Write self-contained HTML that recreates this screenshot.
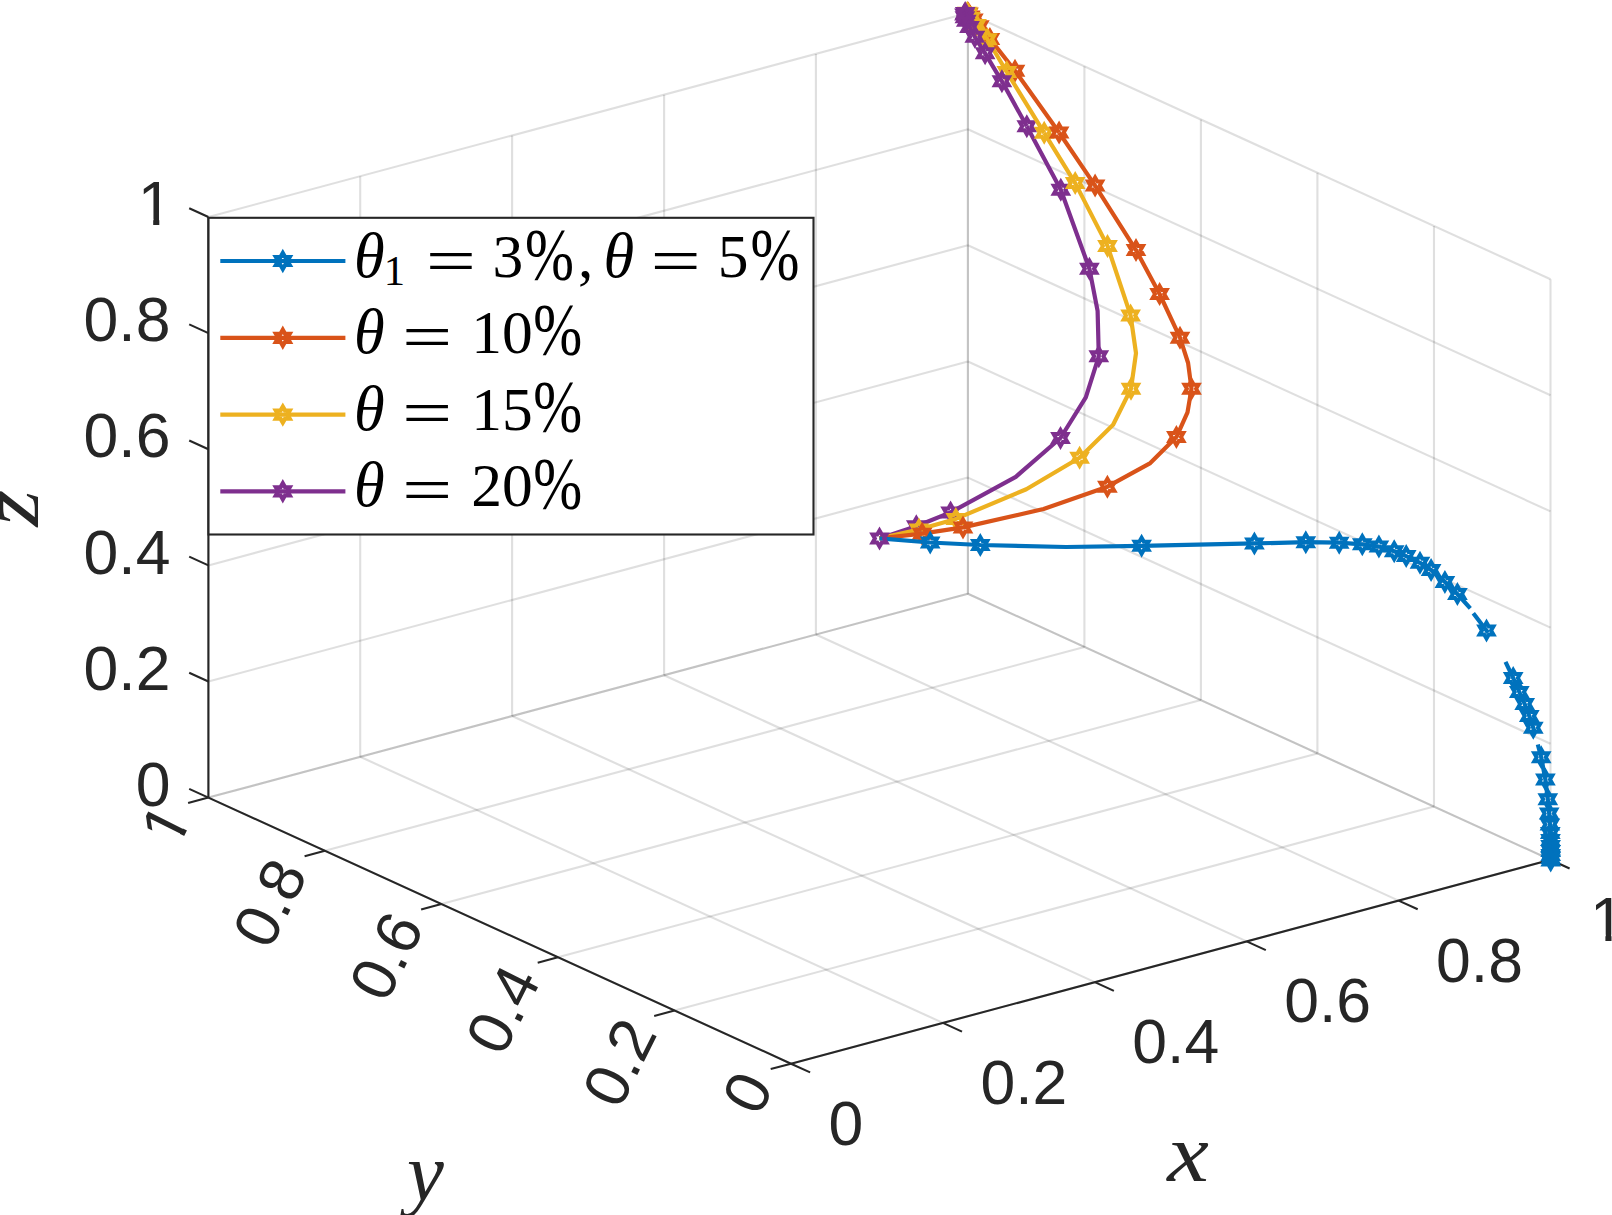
<!DOCTYPE html>
<html><head><meta charset="utf-8"><title>plot</title>
<style>
html,body{margin:0;padding:0;background:#fff;}
body{width:1612px;height:1215px;overflow:hidden;}
svg{display:block;}
.g{stroke:rgba(38,38,38,0.15);stroke-width:2.1;}
.a{stroke:#262626;stroke-width:2.1;}
.tk{font-family:"Liberation Sans",sans-serif;font-size:62.5px;fill:#262626;}
.al{font-family:"Liberation Serif",serif;font-style:italic;font-size:83px;fill:#262626;}
.li{font-family:"Liberation Serif",serif;font-style:italic;font-size:62.5px;fill:#000;}
.lr{font-family:"Liberation Serif",serif;font-size:61.5px;fill:#000;}
.ls{font-family:"Liberation Serif",serif;font-size:42.7px;fill:#000;}
.lq{font-family:"Liberation Serif",serif;font-size:62.5px;fill:#000;}
.lp{font-family:"Liberation Serif",serif;font-size:73.7px;fill:#000;}
</style></head><body>
<svg width="1612" height="1215" viewBox="0 0 1612 1215">
<rect width="1612" height="1215" fill="#fff"/>
<g id="grid"><line x1="791" y1="1063.7" x2="208.4" y2="797.6" class="g"/><line x1="791" y1="1063.7" x2="1550.5" y2="859.8" class="g"/><line x1="208.4" y1="797.6" x2="208.4" y2="217" class="g"/><line x1="208.4" y1="797.6" x2="967.9" y2="593.7" class="g"/><line x1="1550.5" y1="859.8" x2="1550.5" y2="279.2" class="g"/><line x1="1550.5" y1="859.8" x2="967.9" y2="593.7" class="g"/><line x1="942.9" y1="1022.9" x2="360.2" y2="756.8" class="g"/><line x1="674.5" y1="1010.5" x2="1434" y2="806.6" class="g"/><line x1="360.2" y1="756.8" x2="360.2" y2="176.2" class="g"/><line x1="208.4" y1="681.5" x2="967.9" y2="477.6" class="g"/><line x1="1434" y1="806.6" x2="1434" y2="226" class="g"/><line x1="1550.5" y1="743.7" x2="967.9" y2="477.6" class="g"/><line x1="1094.8" y1="982.1" x2="512.1" y2="716" class="g"/><line x1="557.9" y1="957.3" x2="1317.4" y2="753.4" class="g"/><line x1="512.1" y1="716" x2="512.1" y2="135.4" class="g"/><line x1="208.4" y1="565.4" x2="967.9" y2="361.5" class="g"/><line x1="1317.4" y1="753.4" x2="1317.4" y2="172.8" class="g"/><line x1="1550.5" y1="627.6" x2="967.9" y2="361.5" class="g"/><line x1="1246.7" y1="941.4" x2="664.1" y2="675.3" class="g"/><line x1="441.4" y1="904" x2="1200.9" y2="700.1" class="g"/><line x1="664.1" y1="675.3" x2="664.1" y2="94.7" class="g"/><line x1="208.4" y1="449.2" x2="967.9" y2="245.3" class="g"/><line x1="1200.9" y1="700.1" x2="1200.9" y2="119.5" class="g"/><line x1="1550.5" y1="511.4" x2="967.9" y2="245.3" class="g"/><line x1="1398.6" y1="900.6" x2="815.9" y2="634.5" class="g"/><line x1="324.9" y1="850.8" x2="1084.4" y2="646.9" class="g"/><line x1="815.9" y1="634.5" x2="815.9" y2="53.9" class="g"/><line x1="208.4" y1="333.1" x2="967.9" y2="129.2" class="g"/><line x1="1084.4" y1="646.9" x2="1084.4" y2="66.3" class="g"/><line x1="1550.5" y1="395.3" x2="967.9" y2="129.2" class="g"/><line x1="1550.5" y1="859.8" x2="967.9" y2="593.7" class="g"/><line x1="208.4" y1="797.6" x2="967.9" y2="593.7" class="g"/><line x1="967.9" y1="593.7" x2="967.9" y2="13.1" class="g"/><line x1="208.4" y1="217" x2="967.9" y2="13.1" class="g"/><line x1="967.9" y1="593.7" x2="967.9" y2="13.1" class="g"/><line x1="1550.5" y1="279.2" x2="967.9" y2="13.1" class="g"/></g>
<g id="axes"><line x1="791" y1="1063.7" x2="1550.5" y2="859.8" class="a"/><line x1="791" y1="1063.7" x2="208.4" y2="797.6" class="a"/><line x1="208.4" y1="797.6" x2="208.4" y2="217" class="a"/><line x1="791" y1="1063.7" x2="810.1" y2="1072.4" class="a"/><line x1="791" y1="1063.7" x2="770.7" y2="1069.1" class="a"/><line x1="208.4" y1="797.6" x2="189.2" y2="788.9" class="a"/><line x1="942.9" y1="1022.9" x2="962" y2="1031.6" class="a"/><line x1="674.5" y1="1010.5" x2="654.2" y2="1015.9" class="a"/><line x1="208.4" y1="681.5" x2="189.2" y2="672.8" class="a"/><line x1="1094.8" y1="982.1" x2="1113.9" y2="990.9" class="a"/><line x1="557.9" y1="957.3" x2="537.7" y2="962.7" class="a"/><line x1="208.4" y1="565.4" x2="189.2" y2="556.6" class="a"/><line x1="1246.7" y1="941.4" x2="1265.8" y2="950.1" class="a"/><line x1="441.4" y1="904" x2="421.1" y2="909.5" class="a"/><line x1="208.4" y1="449.2" x2="189.2" y2="440.5" class="a"/><line x1="1398.6" y1="900.6" x2="1417.7" y2="909.3" class="a"/><line x1="324.9" y1="850.8" x2="304.6" y2="856.3" class="a"/><line x1="208.4" y1="333.1" x2="189.2" y2="324.4" class="a"/><line x1="1550.5" y1="859.8" x2="1569.6" y2="868.5" class="a"/><line x1="208.4" y1="797.6" x2="188.1" y2="803" class="a"/><line x1="208.4" y1="217" x2="189.2" y2="208.3" class="a"/></g>
<g id="ticklabels"><text class="tk" x="828.5" y="1144.7">0</text><text class="tk" text-anchor="end" x="170.5" y="805.8">0</text><text class="tk" text-anchor="end" transform="translate(754.8 1076.7) rotate(-63.5)" x="0" y="22">0</text><text class="tk" x="980.4" y="1103.9">0.2</text><text class="tk" text-anchor="end" x="170.5" y="689.7">0.2</text><text class="tk" text-anchor="end" transform="translate(638.3 1023.5) rotate(-63.5)" x="0" y="22">0.2</text><text class="tk" x="1132.3" y="1063.1">0.4</text><text class="tk" text-anchor="end" x="170.5" y="573.6">0.4</text><text class="tk" text-anchor="end" transform="translate(521.7 970.3) rotate(-63.5)" x="0" y="22">0.4</text><text class="tk" x="1284.2" y="1022.4">0.6</text><text class="tk" text-anchor="end" x="170.5" y="457.4">0.6</text><text class="tk" text-anchor="end" transform="translate(405.2 917) rotate(-63.5)" x="0" y="22">0.6</text><text class="tk" x="1436.1" y="981.6">0.8</text><text class="tk" text-anchor="end" x="170.5" y="341.3">0.8</text><text class="tk" text-anchor="end" transform="translate(288.7 863.8) rotate(-63.5)" x="0" y="22">0.8</text><text class="tk" x="1590" y="940.8">1</text><rect x="1593.1" y="934.6" width="12.3" height="8.1" fill="#fff"/><rect x="1611.5" y="934.6" width="12.5" height="8.1" fill="#fff"/><text class="tk" x="137.8" y="225.2">1</text><rect x="140.9" y="218.9" width="12.3" height="8.1" fill="#fff"/><rect x="159.3" y="218.9" width="12.5" height="8.1" fill="#fff"/><g transform="translate(172.2 810.6) rotate(-63.5)"><text class="tk" x="-32.8" y="22">1</text><rect x="-29.6" y="15.8" width="12.3" height="8.1" fill="#fff"/><rect x="-11.2" y="15.8" width="12.5" height="8.1" fill="#fff"/></g></g>
<text class="al" transform="translate(1167.2 1181) scale(1.13 1)">x</text>
<text class="al" x="407" y="1199.5">y</text>
<text class="al" transform="translate(37.5 526.5) rotate(-90) scale(1.13 1)">z</text>
<g stroke="#7E2F8E" fill="none" stroke-width="4.2" stroke-linejoin="round"><polyline points="879.5,538.4 916.3,526.3 950.6,512.4 1015.8,476.8 1060.5,438 1085.8,397.4 1098.8,356.3 1097.6,310.9 1089.4,268.7 1060.8,189.8 1026.8,126.3"/><g stroke-width="4" stroke-linejoin="miter" stroke-miterlimit="10"><polygon points="916.3,518.3 918.6,522.3 923.2,522.3 920.9,526.3 923.2,530.3 918.6,530.3 916.3,534.3 914,530.3 909.4,530.3 911.7,526.3 909.4,522.3 914,522.3"/><polygon points="950.6,504.4 952.9,508.4 957.5,508.4 955.2,512.4 957.5,516.4 952.9,516.4 950.6,520.4 948.3,516.4 943.7,516.4 946,512.4 943.7,508.4 948.3,508.4"/><polygon points="1060.5,430 1062.8,434 1067.4,434 1065.1,438 1067.4,442 1062.8,442 1060.5,446 1058.2,442 1053.6,442 1055.9,438 1053.6,434 1058.2,434"/><polygon points="1098.8,348.3 1101.1,352.3 1105.7,352.3 1103.4,356.3 1105.7,360.3 1101.1,360.3 1098.8,364.3 1096.5,360.3 1091.9,360.3 1094.2,356.3 1091.9,352.3 1096.5,352.3"/><polygon points="1089.4,260.7 1091.7,264.7 1096.3,264.7 1094,268.7 1096.3,272.7 1091.7,272.7 1089.4,276.7 1087.1,272.7 1082.5,272.7 1084.8,268.7 1082.5,264.7 1087.1,264.7"/><polygon points="1060.8,181.8 1063.1,185.8 1067.7,185.8 1065.4,189.8 1067.7,193.8 1063.1,193.8 1060.8,197.8 1058.5,193.8 1053.9,193.8 1056.2,189.8 1053.9,185.8 1058.5,185.8"/><polygon points="1026.8,118.3 1029.1,122.3 1033.7,122.3 1031.4,126.3 1033.7,130.3 1029.1,130.3 1026.8,134.3 1024.5,130.3 1019.9,130.3 1022.2,126.3 1019.9,122.3 1024.5,122.3"/></g></g>
<g stroke="#EDB120" fill="none" stroke-width="4.2" stroke-linejoin="round"><polyline points="879.5,538.4 918.9,529.6 955.8,518.9 1026.3,489.2 1079.6,457.7 1113.1,424.7 1131,388.7 1136,353.1 1130.6,315.4 1107.5,245.9 1075.2,183.1 1044.2,132.8"/><g stroke-width="4" stroke-linejoin="miter" stroke-miterlimit="10"><polygon points="918.9,521.6 921.2,525.6 925.8,525.6 923.5,529.6 925.8,533.6 921.2,533.6 918.9,537.6 916.6,533.6 912,533.6 914.3,529.6 912,525.6 916.6,525.6"/><polygon points="955.8,510.9 958.1,514.9 962.7,514.9 960.4,518.9 962.7,522.9 958.1,522.9 955.8,526.9 953.5,522.9 948.9,522.9 951.2,518.9 948.9,514.9 953.5,514.9"/><polygon points="1079.6,449.7 1081.9,453.7 1086.5,453.7 1084.2,457.7 1086.5,461.7 1081.9,461.7 1079.6,465.7 1077.3,461.7 1072.7,461.7 1075,457.7 1072.7,453.7 1077.3,453.7"/><polygon points="1131,380.7 1133.3,384.7 1137.9,384.7 1135.6,388.7 1137.9,392.7 1133.3,392.7 1131,396.7 1128.7,392.7 1124.1,392.7 1126.4,388.7 1124.1,384.7 1128.7,384.7"/><polygon points="1130.6,307.4 1132.9,311.4 1137.5,311.4 1135.2,315.4 1137.5,319.4 1132.9,319.4 1130.6,323.4 1128.3,319.4 1123.7,319.4 1126,315.4 1123.7,311.4 1128.3,311.4"/><polygon points="1107.5,237.9 1109.8,241.9 1114.4,241.9 1112.1,245.9 1114.4,249.9 1109.8,249.9 1107.5,253.9 1105.2,249.9 1100.6,249.9 1102.9,245.9 1100.6,241.9 1105.2,241.9"/><polygon points="1075.2,175.1 1077.5,179.1 1082.1,179.1 1079.8,183.1 1082.1,187.1 1077.5,187.1 1075.2,191.1 1072.9,187.1 1068.3,187.1 1070.6,183.1 1068.3,179.1 1072.9,179.1"/><polygon points="1044.2,124.8 1046.5,128.8 1051.1,128.8 1048.8,132.8 1051.1,136.8 1046.5,136.8 1044.2,140.8 1041.9,136.8 1037.3,136.8 1039.6,132.8 1037.3,128.8 1041.9,128.8"/></g></g>
<g stroke="#D95319" fill="none" stroke-width="4.2" stroke-linejoin="round"><polyline points="879.5,538.4 922.1,533.7 963,527.4 1043.6,509 1107.4,486.7 1150.3,463.1 1176.4,437.1 1187.5,412.3 1191.5,388.7 1188.1,363 1180,337.7 1159.6,294 1136,250.1 1095.1,185.6 1059.1,132.5"/><g stroke-width="4" stroke-linejoin="miter" stroke-miterlimit="10"><polygon points="922.1,525.7 924.4,529.7 929,529.7 926.7,533.7 929,537.7 924.4,537.7 922.1,541.7 919.8,537.7 915.2,537.7 917.5,533.7 915.2,529.7 919.8,529.7"/><polygon points="963,519.4 965.3,523.4 969.9,523.4 967.6,527.4 969.9,531.4 965.3,531.4 963,535.4 960.7,531.4 956.1,531.4 958.4,527.4 956.1,523.4 960.7,523.4"/><polygon points="1107.4,478.7 1109.7,482.7 1114.3,482.7 1112,486.7 1114.3,490.7 1109.7,490.7 1107.4,494.7 1105.1,490.7 1100.5,490.7 1102.8,486.7 1100.5,482.7 1105.1,482.7"/><polygon points="1176.4,429.1 1178.7,433.1 1183.3,433.1 1181,437.1 1183.3,441.1 1178.7,441.1 1176.4,445.1 1174.1,441.1 1169.5,441.1 1171.8,437.1 1169.5,433.1 1174.1,433.1"/><polygon points="1191.5,380.7 1193.8,384.7 1198.4,384.7 1196.1,388.7 1198.4,392.7 1193.8,392.7 1191.5,396.7 1189.2,392.7 1184.6,392.7 1186.9,388.7 1184.6,384.7 1189.2,384.7"/><polygon points="1180,329.7 1182.3,333.7 1186.9,333.7 1184.6,337.7 1186.9,341.7 1182.3,341.7 1180,345.7 1177.7,341.7 1173.1,341.7 1175.4,337.7 1173.1,333.7 1177.7,333.7"/><polygon points="1159.6,286 1161.9,290 1166.5,290 1164.2,294 1166.5,298 1161.9,298 1159.6,302 1157.3,298 1152.7,298 1155,294 1152.7,290 1157.3,290"/><polygon points="1136,242.1 1138.3,246.1 1142.9,246.1 1140.6,250.1 1142.9,254.1 1138.3,254.1 1136,258.1 1133.7,254.1 1129.1,254.1 1131.4,250.1 1129.1,246.1 1133.7,246.1"/><polygon points="1095.1,177.6 1097.4,181.6 1102,181.6 1099.7,185.6 1102,189.6 1097.4,189.6 1095.1,193.6 1092.8,189.6 1088.2,189.6 1090.5,185.6 1088.2,181.6 1092.8,181.6"/><polygon points="1059.1,124.5 1061.4,128.5 1066,128.5 1063.7,132.5 1066,136.5 1061.4,136.5 1059.1,140.5 1056.8,136.5 1052.2,136.5 1054.5,132.5 1052.2,128.5 1056.8,128.5"/></g></g>
<g stroke="#D95319" fill="none" stroke-width="4.2" stroke-linejoin="round"><polyline points="1059.1,132.5 1015,70.7 989.9,38.9 979.3,26.3 973.3,19.4 970.3,16.4 968.4,13.4"/><g stroke-width="4" stroke-linejoin="miter" stroke-miterlimit="10"><polygon points="1015,62.7 1017.3,66.7 1021.9,66.7 1019.6,70.7 1021.9,74.7 1017.3,74.7 1015,78.7 1012.7,74.7 1008.1,74.7 1010.4,70.7 1008.1,66.7 1012.7,66.7"/><polygon points="989.9,30.9 992.2,34.9 996.8,34.9 994.5,38.9 996.8,42.9 992.2,42.9 989.9,46.9 987.6,42.9 983,42.9 985.3,38.9 983,34.9 987.6,34.9"/><polygon points="979.3,18.3 981.6,22.3 986.2,22.3 983.9,26.3 986.2,30.3 981.6,30.3 979.3,34.3 977,30.3 972.4,30.3 974.7,26.3 972.4,22.3 977,22.3"/><polygon points="973.3,11.4 975.6,15.4 980.2,15.4 977.9,19.4 980.2,23.4 975.6,23.4 973.3,27.4 971,23.4 966.4,23.4 968.7,19.4 966.4,15.4 971,15.4"/><polygon points="970.3,8.4 972.6,12.4 977.2,12.4 974.9,16.4 977.2,20.4 972.6,20.4 970.3,24.4 968,20.4 963.4,20.4 965.7,16.4 963.4,12.4 968,12.4"/><polygon points="968.4,5.4 970.7,9.4 975.3,9.4 973,13.4 975.3,17.4 970.7,17.4 968.4,21.4 966.1,17.4 961.5,17.4 963.8,13.4 961.5,9.4 966.1,9.4"/></g></g>
<g stroke="#EDB120" fill="none" stroke-width="4.2" stroke-linejoin="round"><polyline points="1044.2,132.8 1006.8,72 987.4,39.2 976.5,25 970.5,18 968,14.5 967.3,12.8"/><g stroke-width="4" stroke-linejoin="miter" stroke-miterlimit="10"><polygon points="1006.8,64 1009.1,68 1013.7,68 1011.4,72 1013.7,76 1009.1,76 1006.8,80 1004.5,76 999.9,76 1002.2,72 999.9,68 1004.5,68"/><polygon points="987.4,31.2 989.7,35.2 994.3,35.2 992,39.2 994.3,43.2 989.7,43.2 987.4,47.2 985.1,43.2 980.5,43.2 982.8,39.2 980.5,35.2 985.1,35.2"/><polygon points="976.5,17 978.8,21 983.4,21 981.1,25 983.4,29 978.8,29 976.5,33 974.2,29 969.6,29 971.9,25 969.6,21 974.2,21"/><polygon points="970.5,10 972.8,14 977.4,14 975.1,18 977.4,22 972.8,22 970.5,26 968.2,22 963.6,22 965.9,18 963.6,14 968.2,14"/><polygon points="968,6.5 970.3,10.5 974.9,10.5 972.6,14.5 974.9,18.5 970.3,18.5 968,22.5 965.7,18.5 961.1,18.5 963.4,14.5 961.1,10.5 965.7,10.5"/><polygon points="967.3,4.8 969.6,8.8 974.2,8.8 971.9,12.8 974.2,16.8 969.6,16.8 967.3,20.8 965,16.8 960.4,16.8 962.7,12.8 960.4,8.8 965,8.8"/></g></g>
<g stroke="#7E2F8E" fill="none" stroke-width="4.2" stroke-linejoin="round"><polyline points="1026.8,126.3 1001.9,81.3 985.1,53.3 974.8,36.8 969.5,26.9 966.3,20.8 964.9,17.3 964.5,14.6 965.2,13"/><g stroke-width="4" stroke-linejoin="miter" stroke-miterlimit="10"><polygon points="1001.9,73.3 1004.2,77.3 1008.8,77.3 1006.5,81.3 1008.8,85.3 1004.2,85.3 1001.9,89.3 999.6,85.3 995,85.3 997.3,81.3 995,77.3 999.6,77.3"/><polygon points="985.1,45.3 987.4,49.3 992,49.3 989.7,53.3 992,57.3 987.4,57.3 985.1,61.3 982.8,57.3 978.2,57.3 980.5,53.3 978.2,49.3 982.8,49.3"/><polygon points="974.8,28.8 977.1,32.8 981.7,32.8 979.4,36.8 981.7,40.8 977.1,40.8 974.8,44.8 972.5,40.8 967.9,40.8 970.2,36.8 967.9,32.8 972.5,32.8"/><polygon points="969.5,18.9 971.8,22.9 976.4,22.9 974.1,26.9 976.4,30.9 971.8,30.9 969.5,34.9 967.2,30.9 962.6,30.9 964.9,26.9 962.6,22.9 967.2,22.9"/><polygon points="966.3,12.8 968.6,16.8 973.2,16.8 970.9,20.8 973.2,24.8 968.6,24.8 966.3,28.8 964,24.8 959.4,24.8 961.7,20.8 959.4,16.8 964,16.8"/><polygon points="964.9,9.3 967.2,13.3 971.8,13.3 969.5,17.3 971.8,21.3 967.2,21.3 964.9,25.3 962.6,21.3 958,21.3 960.3,17.3 958,13.3 962.6,13.3"/><polygon points="964.5,6.6 966.8,10.6 971.4,10.6 969.1,14.6 971.4,18.6 966.8,18.6 964.5,22.6 962.2,18.6 957.6,18.6 959.9,14.6 957.6,10.6 962.2,10.6"/><polygon points="965.2,5 967.5,9 972.1,9 969.8,13 972.1,17 967.5,17 965.2,21 962.9,17 958.3,17 960.6,13 958.3,9 962.9,9"/></g></g>
<g stroke="#0072BD" fill="none" stroke-width="4.2" stroke-linejoin="round"><polyline points="879.5,538.4 930.2,542.5 980.3,545 1066,547 1141.6,545.8 1254.4,543.4 1305.8,542.2 1339.2,542.7 1362.3,544.3 1378.9,546.6 1394.2,551.2 1406.2,556.1 1420,562.8 1431.1,569.9 1444.9,581.9 1457.4,594 1470.3,608.3"/><polyline points="1473.3,613.3 1486.5,630.5 1488,632.7"/><polyline points="1505.5,661.9 1513.2,678 1519.3,692 1524.7,704 1529.3,716 1533.3,727.8 1535,733"/><polyline points="1537.8,744.5 1541.2,757.3 1545.4,779.5 1547.8,799.2 1549.2,813.5 1549.9,824.5 1550.3,833 1550.5,840 1550.6,846 1550.7,851 1550.7,855 1550.7,858 1550.7,860.4"/><g stroke-width="4" stroke-linejoin="miter" stroke-miterlimit="10"><polygon points="930.2,534.5 932.5,538.5 937.1,538.5 934.8,542.5 937.1,546.5 932.5,546.5 930.2,550.5 927.9,546.5 923.3,546.5 925.6,542.5 923.3,538.5 927.9,538.5"/><polygon points="980.3,537 982.6,541 987.2,541 984.9,545 987.2,549 982.6,549 980.3,553 978,549 973.4,549 975.7,545 973.4,541 978,541"/><polygon points="1141.6,537.8 1143.9,541.8 1148.5,541.8 1146.2,545.8 1148.5,549.8 1143.9,549.8 1141.6,553.8 1139.3,549.8 1134.7,549.8 1137,545.8 1134.7,541.8 1139.3,541.8"/><polygon points="1254.4,535.4 1256.7,539.4 1261.3,539.4 1259,543.4 1261.3,547.4 1256.7,547.4 1254.4,551.4 1252.1,547.4 1247.5,547.4 1249.8,543.4 1247.5,539.4 1252.1,539.4"/><polygon points="1305.8,534.2 1308.1,538.2 1312.7,538.2 1310.4,542.2 1312.7,546.2 1308.1,546.2 1305.8,550.2 1303.5,546.2 1298.9,546.2 1301.2,542.2 1298.9,538.2 1303.5,538.2"/><polygon points="1339.2,534.7 1341.5,538.7 1346.1,538.7 1343.8,542.7 1346.1,546.7 1341.5,546.7 1339.2,550.7 1336.9,546.7 1332.3,546.7 1334.6,542.7 1332.3,538.7 1336.9,538.7"/><polygon points="1362.3,536.3 1364.6,540.3 1369.2,540.3 1366.9,544.3 1369.2,548.3 1364.6,548.3 1362.3,552.3 1360,548.3 1355.4,548.3 1357.7,544.3 1355.4,540.3 1360,540.3"/><polygon points="1378.9,538.6 1381.2,542.6 1385.8,542.6 1383.5,546.6 1385.8,550.6 1381.2,550.6 1378.9,554.6 1376.6,550.6 1372,550.6 1374.3,546.6 1372,542.6 1376.6,542.6"/><polygon points="1394.2,543.2 1396.5,547.2 1401.1,547.2 1398.8,551.2 1401.1,555.2 1396.5,555.2 1394.2,559.2 1391.9,555.2 1387.3,555.2 1389.6,551.2 1387.3,547.2 1391.9,547.2"/><polygon points="1406.2,548.1 1408.5,552.1 1413.1,552.1 1410.8,556.1 1413.1,560.1 1408.5,560.1 1406.2,564.1 1403.9,560.1 1399.3,560.1 1401.6,556.1 1399.3,552.1 1403.9,552.1"/><polygon points="1420,554.8 1422.3,558.8 1426.9,558.8 1424.6,562.8 1426.9,566.8 1422.3,566.8 1420,570.8 1417.7,566.8 1413.1,566.8 1415.4,562.8 1413.1,558.8 1417.7,558.8"/><polygon points="1431.1,561.9 1433.4,565.9 1438,565.9 1435.7,569.9 1438,573.9 1433.4,573.9 1431.1,577.9 1428.8,573.9 1424.2,573.9 1426.5,569.9 1424.2,565.9 1428.8,565.9"/><polygon points="1444.9,573.9 1447.2,577.9 1451.8,577.9 1449.5,581.9 1451.8,585.9 1447.2,585.9 1444.9,589.9 1442.6,585.9 1438,585.9 1440.3,581.9 1438,577.9 1442.6,577.9"/><polygon points="1457.4,586 1459.7,590 1464.3,590 1462,594 1464.3,598 1459.7,598 1457.4,602 1455.1,598 1450.5,598 1452.8,594 1450.5,590 1455.1,590"/><polygon points="1486.5,622.5 1488.8,626.5 1493.4,626.5 1491.1,630.5 1493.4,634.5 1488.8,634.5 1486.5,638.5 1484.2,634.5 1479.6,634.5 1481.9,630.5 1479.6,626.5 1484.2,626.5"/><polygon points="1513.2,670 1515.5,674 1520.1,674 1517.8,678 1520.1,682 1515.5,682 1513.2,686 1510.9,682 1506.3,682 1508.6,678 1506.3,674 1510.9,674"/><polygon points="1519.3,684 1521.6,688 1526.2,688 1523.9,692 1526.2,696 1521.6,696 1519.3,700 1517,696 1512.4,696 1514.7,692 1512.4,688 1517,688"/><polygon points="1524.7,696 1527,700 1531.6,700 1529.3,704 1531.6,708 1527,708 1524.7,712 1522.4,708 1517.8,708 1520.1,704 1517.8,700 1522.4,700"/><polygon points="1529.3,708 1531.6,712 1536.2,712 1533.9,716 1536.2,720 1531.6,720 1529.3,724 1527,720 1522.4,720 1524.7,716 1522.4,712 1527,712"/><polygon points="1533.3,719.8 1535.6,723.8 1540.2,723.8 1537.9,727.8 1540.2,731.8 1535.6,731.8 1533.3,735.8 1531,731.8 1526.4,731.8 1528.7,727.8 1526.4,723.8 1531,723.8"/><polygon points="1541.2,749.3 1543.5,753.3 1548.1,753.3 1545.8,757.3 1548.1,761.3 1543.5,761.3 1541.2,765.3 1538.9,761.3 1534.3,761.3 1536.6,757.3 1534.3,753.3 1538.9,753.3"/><polygon points="1545.4,771.5 1547.7,775.5 1552.3,775.5 1550,779.5 1552.3,783.5 1547.7,783.5 1545.4,787.5 1543.1,783.5 1538.5,783.5 1540.8,779.5 1538.5,775.5 1543.1,775.5"/><polygon points="1547.8,791.2 1550.1,795.2 1554.7,795.2 1552.4,799.2 1554.7,803.2 1550.1,803.2 1547.8,807.2 1545.5,803.2 1540.9,803.2 1543.2,799.2 1540.9,795.2 1545.5,795.2"/><polygon points="1549.2,805.5 1551.5,809.5 1556.1,809.5 1553.8,813.5 1556.1,817.5 1551.5,817.5 1549.2,821.5 1546.9,817.5 1542.3,817.5 1544.6,813.5 1542.3,809.5 1546.9,809.5"/><polygon points="1549.9,816.5 1552.2,820.5 1556.8,820.5 1554.5,824.5 1556.8,828.5 1552.2,828.5 1549.9,832.5 1547.6,828.5 1543,828.5 1545.3,824.5 1543,820.5 1547.6,820.5"/><polygon points="1550.3,825 1552.6,829 1557.2,829 1554.9,833 1557.2,837 1552.6,837 1550.3,841 1548,837 1543.4,837 1545.7,833 1543.4,829 1548,829"/><polygon points="1550.5,832 1552.8,836 1557.4,836 1555.1,840 1557.4,844 1552.8,844 1550.5,848 1548.2,844 1543.6,844 1545.9,840 1543.6,836 1548.2,836"/><polygon points="1550.6,838 1552.9,842 1557.5,842 1555.2,846 1557.5,850 1552.9,850 1550.6,854 1548.3,850 1543.7,850 1546,846 1543.7,842 1548.3,842"/><polygon points="1550.7,843 1553,847 1557.6,847 1555.3,851 1557.6,855 1553,855 1550.7,859 1548.4,855 1543.8,855 1546.1,851 1543.8,847 1548.4,847"/><polygon points="1550.7,847 1553,851 1557.6,851 1555.3,855 1557.6,859 1553,859 1550.7,863 1548.4,859 1543.8,859 1546.1,855 1543.8,851 1548.4,851"/><polygon points="1550.7,850 1553,854 1557.6,854 1555.3,858 1557.6,862 1553,862 1550.7,866 1548.4,862 1543.8,862 1546.1,858 1543.8,854 1548.4,854"/><polygon points="1550.7,852.4 1553,856.4 1557.6,856.4 1555.3,860.4 1557.6,864.4 1553,864.4 1550.7,868.4 1548.4,864.4 1543.8,864.4 1546.1,860.4 1543.8,856.4 1548.4,856.4"/></g></g>
<g stroke="#7E2F8E" fill="none" stroke-width="4.2" stroke-linejoin="round"><g stroke-width="4" stroke-linejoin="miter" stroke-miterlimit="10"><polygon points="879.5,530.4 881.8,534.4 886.4,534.4 884.1,538.4 886.4,542.4 881.8,542.4 879.5,546.4 877.2,542.4 872.6,542.4 874.9,538.4 872.6,534.4 877.2,534.4"/></g></g>
<rect x="208.5" y="217.8" width="605" height="316.7" fill="#fff" stroke="#262626" stroke-width="2.1"/>
<g stroke="#0072BD" fill="none" stroke-width="4.2"><line x1="220.3" y1="261" x2="345.4" y2="261"/><polygon points="282.8,253 285.1,257 289.7,257 287.4,261 289.7,265 285.1,265 282.8,269 280.5,265 275.9,265 278.2,261 275.9,257 280.5,257"/></g>
<g stroke="#D95319" fill="none" stroke-width="4.2"><line x1="220.3" y1="337.8" x2="345.4" y2="337.8"/><polygon points="282.8,329.8 285.1,333.8 289.7,333.8 287.4,337.8 289.7,341.8 285.1,341.8 282.8,345.8 280.5,341.8 275.9,341.8 278.2,337.8 275.9,333.8 280.5,333.8"/></g>
<g stroke="#EDB120" fill="none" stroke-width="4.2"><line x1="220.3" y1="414.6" x2="345.4" y2="414.6"/><polygon points="282.8,406.6 285.1,410.6 289.7,410.6 287.4,414.6 289.7,418.6 285.1,418.6 282.8,422.6 280.5,418.6 275.9,418.6 278.2,414.6 275.9,410.6 280.5,410.6"/></g>
<g stroke="#7E2F8E" fill="none" stroke-width="4.2"><line x1="220.3" y1="491.3" x2="345.4" y2="491.3"/><polygon points="282.8,483.3 285.1,487.3 289.7,487.3 287.4,491.3 289.7,495.3 285.1,495.3 282.8,499.3 280.5,495.3 275.9,495.3 278.2,491.3 275.9,487.3 280.5,487.3"/></g>
<g id="legendtext"><text class="li" x="353.9" y="277.4">θ</text><text class="ls" x="383.8" y="285.4">1</text><text class="lq" transform="translate(425.8 282.1) scale(1.428 1)">=</text><text class="lr" x="492.6" y="277.4">3</text><text class="lp" transform="translate(525.1 279.6) scale(0.798 1)">%</text><text class="lr" x="578" y="277.4">,</text><text class="li" x="603.4" y="277.4">θ</text><text class="lq" transform="translate(650.5 282.1) scale(1.428 1)">=</text><text class="lr" x="717.7" y="277.4">5</text><text class="lp" transform="translate(750.5 279.6) scale(0.798 1)">%</text><text class="li" x="353.9" y="353">θ</text><text class="lq" transform="translate(402 357.7) scale(1.428 1)">=</text><text class="lr" x="471.3" y="353">10</text><text class="lp" transform="translate(533.2 355.2) scale(0.798 1)">%</text><text class="li" x="353.9" y="429.7">θ</text><text class="lq" transform="translate(402 434.4) scale(1.428 1)">=</text><text class="lr" x="471.3" y="429.7">15</text><text class="lp" transform="translate(533.2 431.9) scale(0.798 1)">%</text><text class="li" x="353.9" y="506.4">θ</text><text class="lq" transform="translate(402 511.1) scale(1.428 1)">=</text><text class="lr" x="471.3" y="506.4">20</text><text class="lp" transform="translate(533.2 508.6) scale(0.798 1)">%</text></g>
</svg>
</body></html>
